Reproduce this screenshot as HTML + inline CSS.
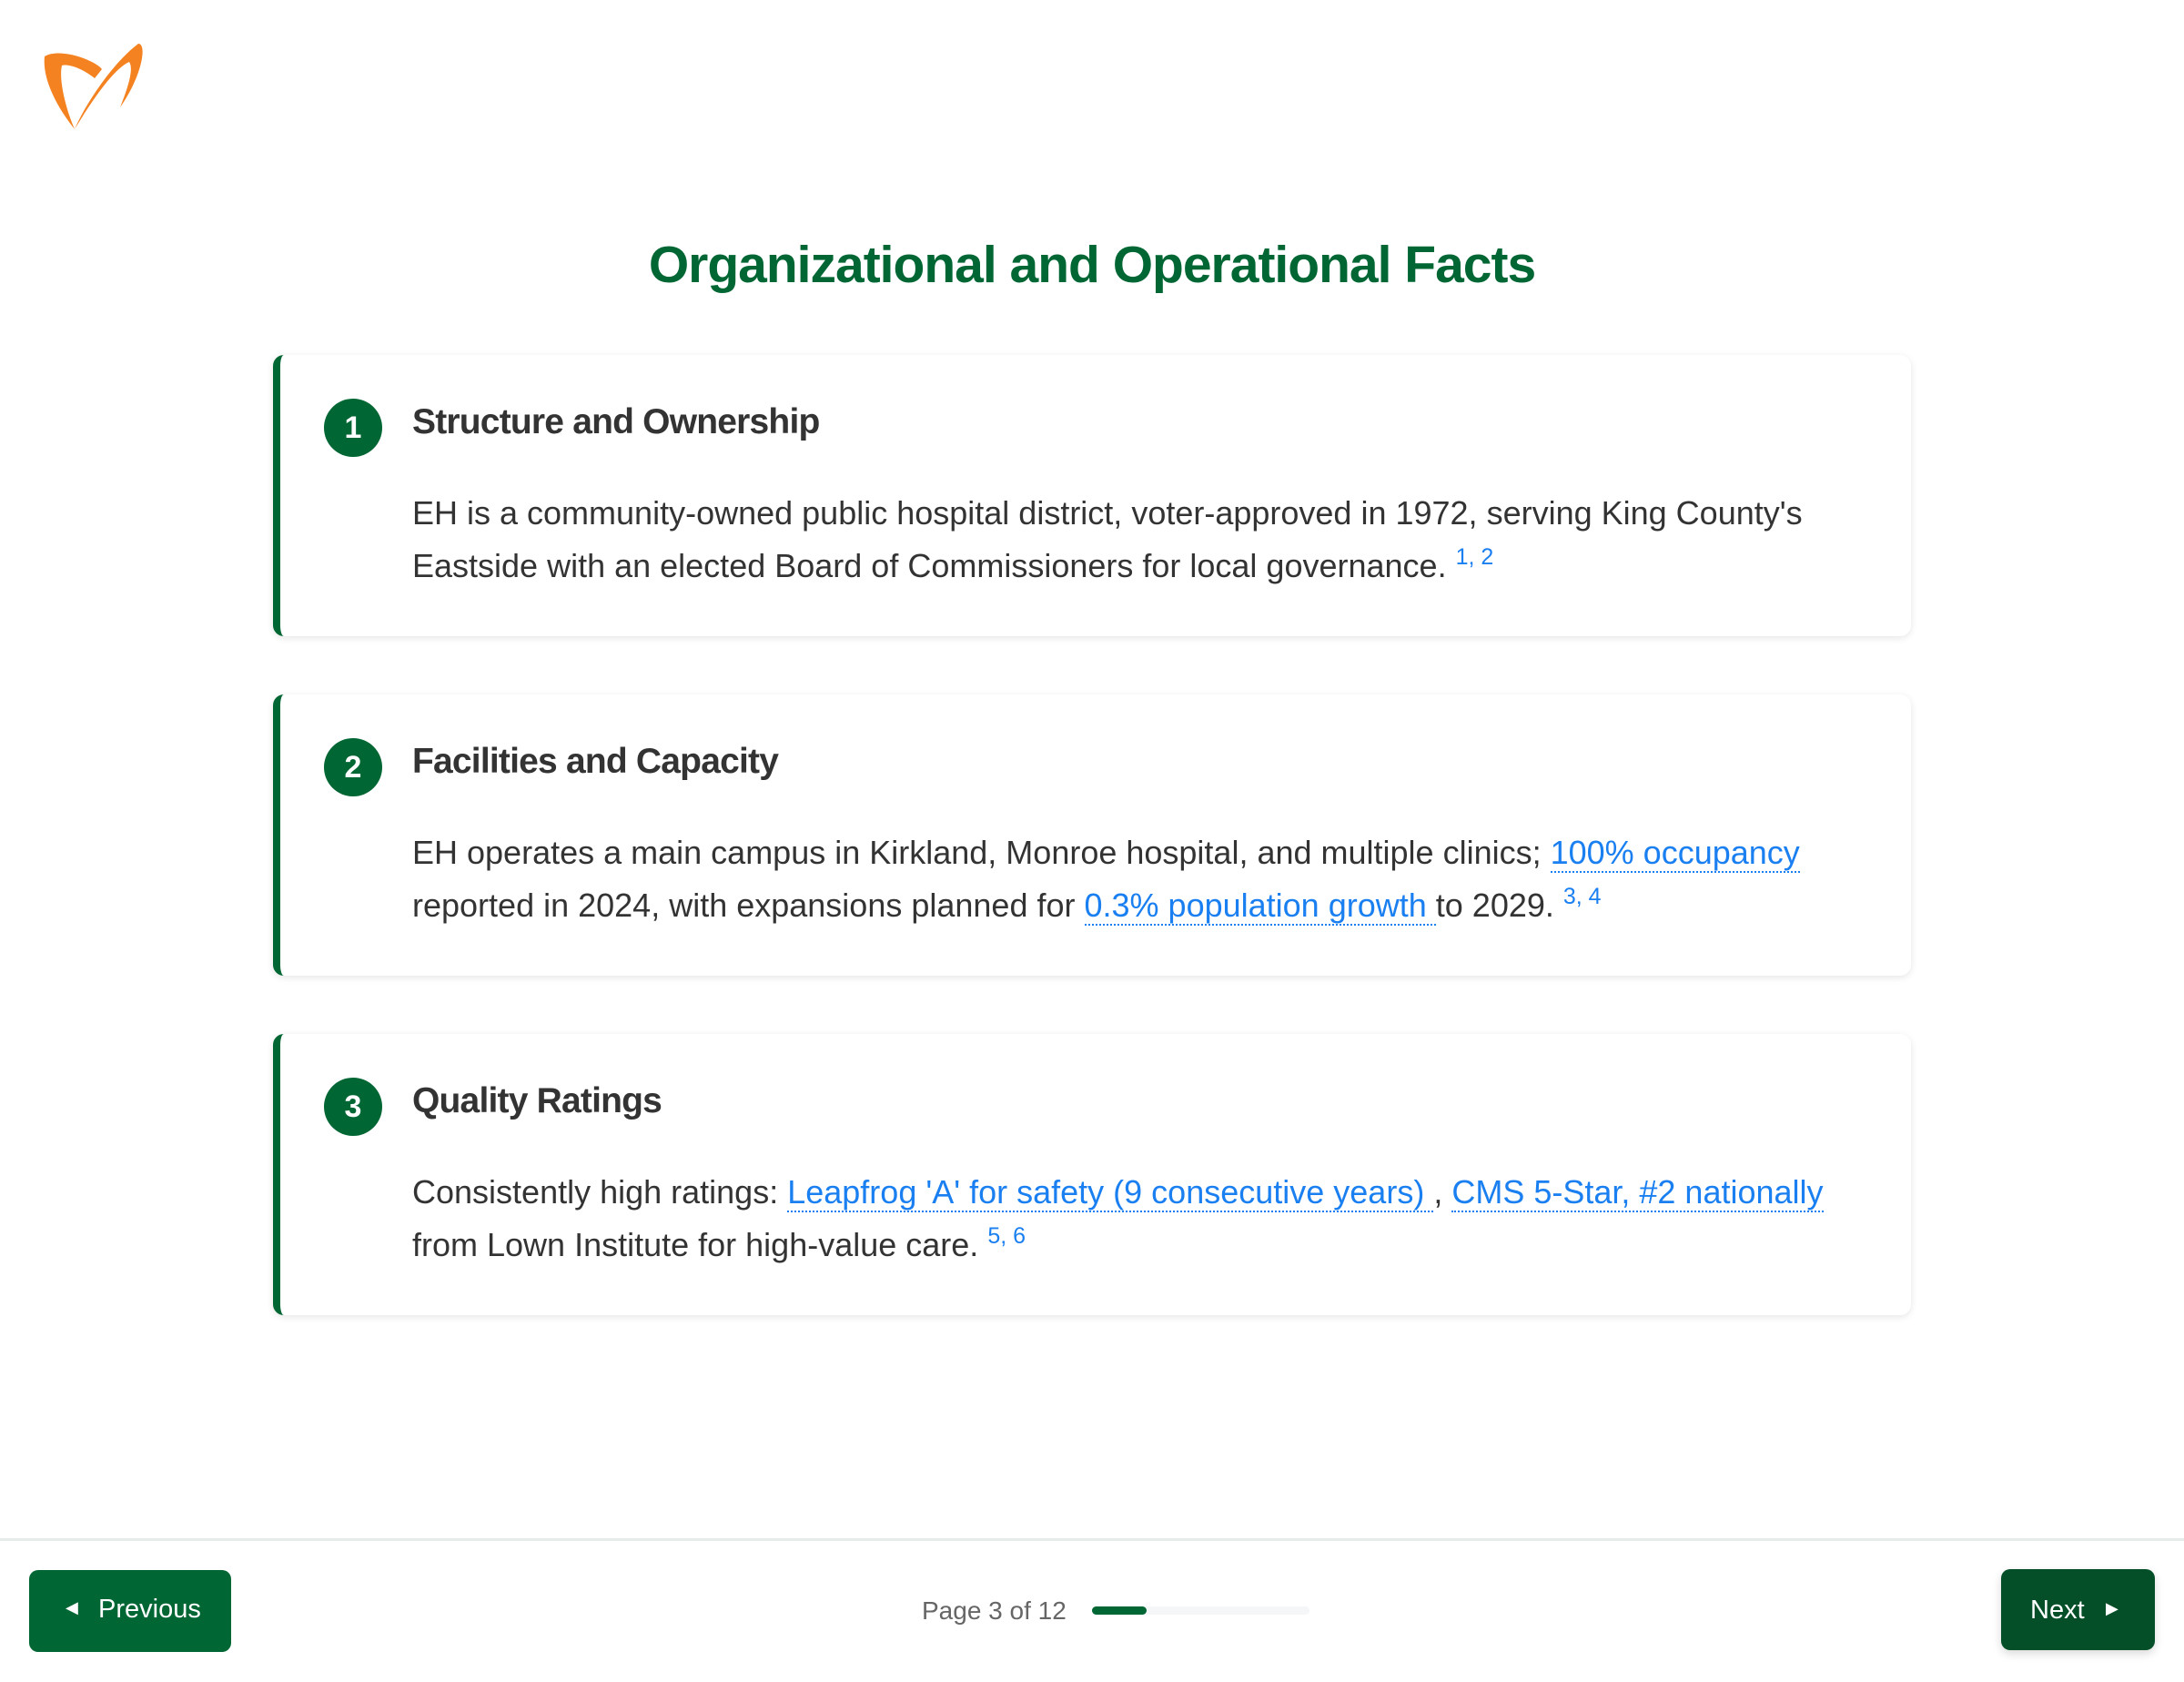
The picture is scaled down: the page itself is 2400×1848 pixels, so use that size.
<!DOCTYPE html>
<html><head><meta charset="utf-8"><style>
*{margin:0;padding:0;box-sizing:border-box}
body{width:2400px;height:1848px;background:#fff;font-family:"Liberation Sans",sans-serif;position:relative;overflow:hidden;color:#333}
h1{position:absolute;left:0;width:2400px;top:258px;text-align:center;font-size:57px;font-weight:bold;color:#006633;letter-spacing:-1px}
.card{position:absolute;left:300px;width:1800px;height:309px;background:#fff;border-left:8px solid #006633;border-radius:12px;box-shadow:0 2px 8px rgba(0,0,0,0.10)}
.num{position:absolute;left:48px;top:48px;width:64px;height:64px;border-radius:50%;background:#006633;color:#fff;font-weight:bold;font-size:34px;text-align:center;line-height:64px}
.hd{position:absolute;left:145px;top:52px;font-size:39px;font-weight:bold;color:#333;letter-spacing:-0.8px}
.bd{position:absolute;left:145px;top:145px;white-space:nowrap;font-size:36px;line-height:58px;color:#333}
a{color:#1a7ff0;text-decoration:none;border-bottom:2px dotted #1a7ff0}
sup{color:#1a7ff0;font-size:25px;vertical-align:14px;line-height:0}
.foot{position:absolute;left:0;top:1690px;width:2400px;height:3px;background:#e6ecea}
.btn{position:absolute;color:#fff;font-size:29px;border-radius:10px}
</style></head><body>
<svg style="position:absolute;left:44px;top:44px" width="120" height="104" viewBox="0 0 120 104">
<path d="M5 18 C22 8 60 22 68 32 L60 42 C45 30 30 26 24 28 C20 45 30 80 38 98 C22 78 2 45 5 18 Z" fill="#f58220"/>
<path d="M38 98 C50 70 80 25 108 4 C118 4 112 40 88 74 C100 44 102 30 98 24 C80 32 55 70 38 98 Z" fill="#f58220"/>
</svg>
<h1>Organizational and Operational Facts</h1>

<div class="card" style="top:390px"><div class="num">1</div><div class="hd">Structure and Ownership</div>
<div class="bd">EH is a community-owned public hospital district, voter-approved in 1972, serving King County's<br>Eastside with an elected Board of Commissioners for local governance. <sup>1, 2</sup></div></div>

<div class="card" style="top:763px"><div class="num">2</div><div class="hd">Facilities and Capacity</div>
<div class="bd">EH operates a main campus in Kirkland, Monroe hospital, and multiple clinics; <a>100% occupancy</a><br>reported in 2024, with expansions planned for <a>0.3% population growth </a> to 2029. <sup>3, 4</sup></div></div>

<div class="card" style="top:1136px"><div class="num">3</div><div class="hd">Quality Ratings</div>
<div class="bd">Consistently high ratings: <a>Leapfrog 'A' for safety (9 consecutive years) </a>, <a>CMS 5-Star, #2 nationally</a><br>from Lown Institute for high-value care. <sup>5, 6</sup></div></div>

<div class="foot"></div>
<div class="btn" style="left:32px;top:1725px;width:222px;height:90px;background:#006633"><span style="position:absolute;left:40px;top:31px;font-size:18px">&#9664;</span><span style="position:absolute;left:76px;top:27px">Previous</span></div>
<div style="position:absolute;left:1013px;top:1754px;font-size:28px;color:#666">Page 3 of 12</div>
<div style="position:absolute;left:1200px;top:1765px;width:239px;height:9px;border-radius:5px;background:#f4f6f8"><div style="width:60px;height:9px;border-radius:5px;background:#006633"></div></div>
<div class="btn" style="left:2199px;top:1724px;width:169px;height:89px;background:#054f28;box-shadow:0 4px 10px rgba(0,0,0,0.15)"><span style="position:absolute;left:32px;top:29px">Next</span><span style="position:absolute;left:115px;top:33px;font-size:18px">&#9654;</span></div>
</body></html>
